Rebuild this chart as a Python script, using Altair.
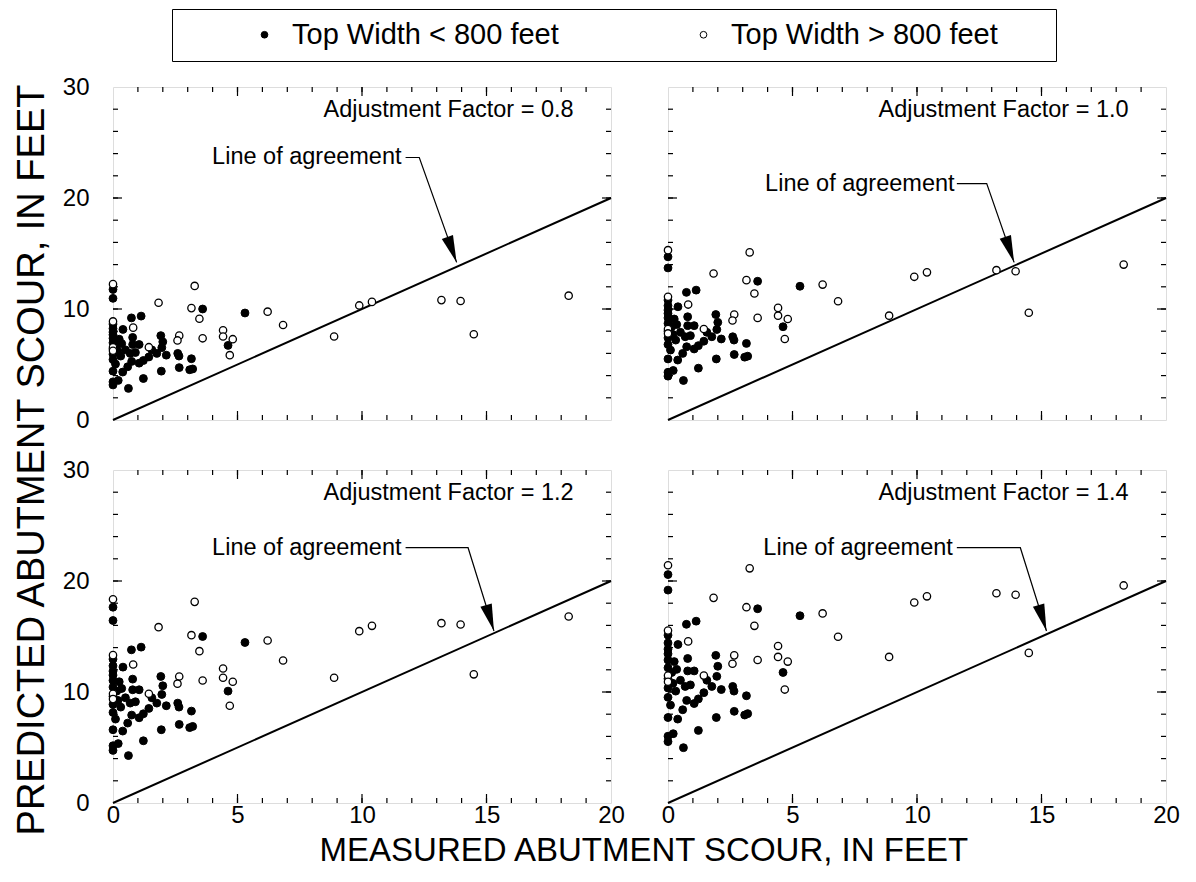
import altair as alt
import pandas as pd

FONT = "Liberation Sans"

# ---- data read from the Adjustment Factor = 1.0 panel (measured, predicted) ----
filled_measured = [0, 0, 3.6, 5.3, 1.13, 0.74, 0, 0, 0.4, 0, 0, 0.25, 0.79, 1.92, 2.0, 0.79, 1.05,
                   1.96, 1.56, 0, 0, 0.2, 0.15, 0, 0.69, 1.76, 2.14, 2.6, 2.65, 0.31, 0, 1.22, 1.44,
                   0.75, 3.15, 0.59, 1.05, 0, 0.39, 1.94, 2.66, 3.08, 3.2, 1.22, 0.21, 0, 0, 0.62,
                   4.62, 0.5, 0.35, 0.1, 0, 0.9]
filled_predicted = [14.7, 13.7, 12.5, 12.05, 11.7, 11.5, 10.8, 10.3, 10.2, 9.6, 9.2, 9.1, 9.3, 9.5,
                    8.8, 8.5, 8.5, 8.15, 7.9, 8.7, 8.0, 7.7, 8.4, 7.4, 7.5, 7.5, 7.3, 7.5, 7.2, 7.2,
                    6.8, 6.7, 7.1, 6.6, 6.9, 6.0, 6.4, 5.5, 5.4, 5.5, 5.9, 5.66, 5.75, 4.67, 4.46,
                    3.95, 4.3, 3.56, 8.4, 7.9, 8.6, 6.3, 9.9, 7.6]
open_measured = [0, 3.28, 1.83, 3.15, 3.47, 0, 0.81, 2.66, 2.59, 3.6, 4.42, 4.42, 4.81, 4.69, 6.21,
                 6.83, 1.44, 0, 0, 8.88, 9.89, 10.4, 13.19, 13.96, 14.49, 18.3]
open_predicted = [15.3, 15.1, 13.2, 12.6, 11.4, 11.1, 10.4, 9.5, 8.96, 9.2, 10.1, 9.4, 9.1, 7.3, 12.2,
                  10.7, 8.2, 8.2, 7.8, 9.4, 12.9, 13.3, 13.5, 13.4, 9.66, 14.0]

group_labels = ["Top Width < 800 feet", "Top Width > 800 feet"]
factors = [0.8, 1.0, 1.2, 1.4]
factor_texts = ["Adjustment Factor = 0.8", "Adjustment Factor = 1.0",
                "Adjustment Factor  = 1.2", "Adjustment Factor = 1.4"]

x_label_values = [0, 5, 10, 15, 20]
y_label_values = [0, 10, 20, 30]
x_ticks_minor = list(range(1, 20))
x_ticks_major = [5, 10, 15]
y_ticks_minor = list(range(2, 30, 2))
y_ticks_major = [10, 20]
agreement = [0, 20]

# annotation anchors (data units)
line_label_x = [3.98, 3.9, 3.98, 3.83]
line_label_y = [23.65, 21.3, 23.0, 23.0]
leader_start_x = [11.75, 11.6, 11.75, 11.6]
leader_bend_x = [12.3, 12.8, 14.26, 14.15]
arrow_tip_x = [13.8, 13.9, 15.3, 15.2]
arrow_tip_y = [14.2, 14.2, 15.5, 15.5]
arrow_angle = [340, 341, 343, 343]
factor_text_x = 18.5
factor_text_y = 27.9

W, H = 498, 333

filled_df = pd.DataFrame({"measured": filled_measured, "base": filled_predicted,
                          "group": [group_labels[0]] * len(filled_measured)})
open_df = pd.DataFrame({"measured": open_measured, "base": open_predicted,
                        "group": [group_labels[1]] * len(open_measured)})

legend = alt.Legend(
    orient="none", legendX=59, legendY=-78, direction="horizontal",
    title=".", titleOrient="right", titleColor="white", titleFontSize=8, titlePadding=44,
    labelFont=FONT, labelFontSize=29, labelColor="black", labelOffset=13, labelLimit=0,
    strokeColor="black", padding=11, symbolOffset=67, columnPadding=63,
    symbolSize=45, symbolType="circle", symbolStrokeColor="black", symbolStrokeWidth=1,
)
fill_scale = alt.Scale(domain=group_labels, range=["black", "white"])


def panel(i):
    f = factors[i]
    left = i % 2 == 0
    bottom = i >= 2
    xs = alt.Scale(domain=[0, 20], nice=False, zero=False)
    ys = alt.Scale(domain=[0, 30], nice=False, zero=False)
    xaxis = (alt.Axis(values=x_label_values, ticks=False, domain=False, grid=False, title=None,
                      labelFont=FONT, labelFontSize=24, labelColor="black", labelPadding=0,
                      labelFlush=False)
             if bottom else None)
    yaxis = (alt.Axis(values=y_label_values, ticks=False, domain=False, grid=False, title=None,
                      labelFont=FONT, labelFontSize=24, labelColor="black", labelPadding=24)
             if left else None)

    def X(field):
        return alt.X(field, scale=xs, axis=xaxis)

    def Y(field):
        return alt.Y(field, scale=ys, axis=yaxis)

    def pts(df, size, sw):
        return alt.Chart(df).transform_calculate(
            predicted=f"datum.base * {f}"
        ).mark_point(shape="circle", filled=True, size=size, stroke="black", strokeWidth=sw,
                     opacity=1, clip=False).encode(
            x=X("measured:Q"), y=Y("predicted:Q"),
            fill=alt.Fill("group:N", scale=fill_scale, legend=legend),
        )

    agree = alt.Chart(pd.DataFrame({"x": agreement, "y": agreement})).mark_line(
        color="black", strokeWidth=2).encode(x=X("x:Q"), y=Y("y:Q"))

    leader_df = pd.DataFrame({
        "x": [leader_start_x[i], leader_bend_x[i], arrow_tip_x[i]],
        "y": [line_label_y[i], line_label_y[i], arrow_tip_y[i]],
        "o": [0, 1, 2],
    })
    leader = alt.Chart(leader_df).mark_line(color="black", strokeWidth=1.2).encode(
        x=X("x:Q"), y=Y("y:Q"), order="o:Q")

    head = alt.Chart(pd.DataFrame({"x": [arrow_tip_x[i]], "y": [arrow_tip_y[i]]})).mark_point(
        shape="M-0.44,-2L0.44,-2L0,0Z", filled=True, fill="black", size=729, opacity=1,
        strokeWidth=0, angle=arrow_angle[i]).encode(x=X("x:Q"), y=Y("y:Q"))

    lab = alt.Chart(pd.DataFrame({"x": [line_label_x[i]], "y": [line_label_y[i]],
                                  "t": ["Line of agreement"]})).mark_text(
        align="left", baseline="middle", font=FONT, fontSize=23.5, color="black").encode(
        x=X("x:Q"), y=Y("y:Q"), text="t:N")

    ftxt = alt.Chart(pd.DataFrame({"x": [factor_text_x], "y": [factor_text_y],
                                   "t": [factor_texts[i]]})).mark_text(
        align="right", baseline="middle", font=FONT, fontSize=23.5, color="black").encode(
        x=X("x:Q"), y=Y("y:Q"), text="t:N")

    def xt(vals, y0, y1):
        return alt.Chart(pd.DataFrame({"t": vals})).mark_rule(color="black", strokeWidth=1.2).encode(
            x=X("t:Q"), y=alt.value(y0), y2=alt.value(y1))

    def yt(vals, x0, x1):
        return alt.Chart(pd.DataFrame({"t": vals})).mark_rule(color="black", strokeWidth=1.2).encode(
            y=Y("t:Q"), x=alt.value(x0), x2=alt.value(x1))

    ticks = [
        xt(x_ticks_minor, H, H - 5), xt(x_ticks_major, H, H - 9),
        xt(x_ticks_minor, 0, 5), xt(x_ticks_major, 0, 9),
        yt(y_ticks_minor, 0, 5), yt(y_ticks_major, 0, 9),
        yt(y_ticks_minor, W, W - 5), yt(y_ticks_major, W, W - 9),
    ]

    return alt.layer(agree, *ticks, leader, head, lab, ftxt,
                     pts(filled_df, 62, 1.0), pts(open_df, 54, 1.3)).properties(width=W, height=H)


grid = alt.concat(*[panel(i) for i in range(4)], columns=2,
                  spacing={"row": 24, "column": 35}).properties(
    title=alt.TitleParams("PREDICTED ABUTMENT SCOUR, IN FEET", orient="left", anchor="middle",
                          font=FONT, fontSize=38, fontWeight="normal", color="black", offset=10,
                          dx=-9)
)

chart = alt.vconcat(grid).properties(
    title=alt.TitleParams("MEASURED ABUTMENT SCOUR, IN FEET", orient="bottom", anchor="middle",
                          font=FONT, fontSize=33, fontWeight="normal", color="black", offset=-2,
                          dx=47),
    padding={"left": 5, "top": 0, "right": 0, "bottom": 0},
).configure_view(stroke="black", strokeWidth=1.6).configure(background="white")

chart.save("out.html", embed_options={"renderer": "svg", "actions": False})
